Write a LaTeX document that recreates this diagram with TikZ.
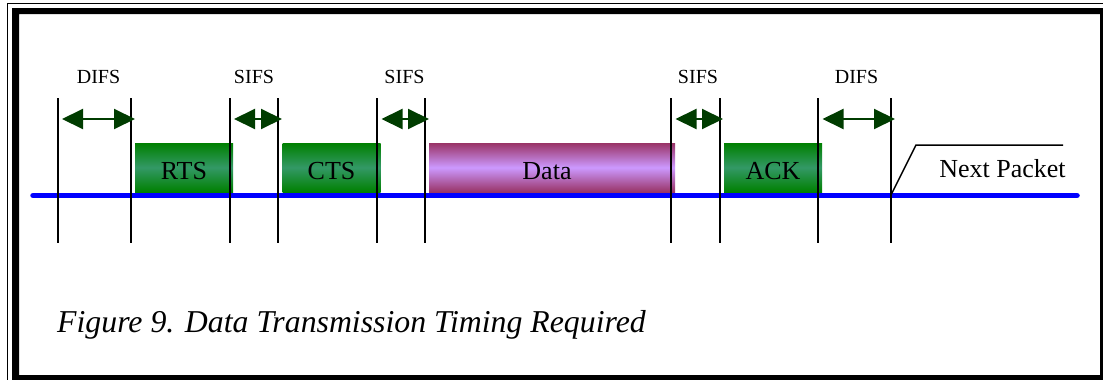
\documentclass[tikz,border=0pt]{standalone}
\usepackage{fontspec}
\setmainfont{Liberation Serif}
\usetikzlibrary{arrows.meta}
\definecolor{boxgreen}{RGB}{0,128,0}
\definecolor{boxgreenmid}{RGB}{51,153,102}
\definecolor{datadark}{RGB}{153,51,102}
\definecolor{datamid}{RGB}{204,153,255}
\definecolor{arrgreen}{RGB}{0,60,0}
\definecolor{busblue}{RGB}{0,0,255}
\tikzset{
  gbox/.style={minimum width=98pt,minimum height=49pt,inner sep=0pt,
    top color=boxgreen,bottom color=boxgreen,middle color=boxgreenmid,
    font=\fontsize{26}{30}\selectfont},
  dbox/.style={minimum width=246pt,minimum height=49pt,inner sep=0pt,
    top color=datadark,bottom color=datadark,middle color=datamid,
    font=\fontsize{26}{30}\selectfont},
  boxtext/.style={anchor=base,font=\fontsize{26}{30}\selectfont,inner sep=0pt},
  ifslabel/.style={anchor=base,inner sep=0pt,font=\fontsize{20}{24}\selectfont},
  tick/.style={line width=1.3pt,black},
  darr/.style={line width=2pt,arrgreen,{Triangle[length=21pt,width=20pt]}-{Triangle[length=21pt,width=20pt]}},
  bus/.style={line width=5.5pt,busblue,line cap=round},
}
\begin{document}
\begin{tikzpicture}[x=1pt,y=-1pt]
\useasboundingbox (0,0) rectangle (1103,380);
% frame
\draw[line width=1.3pt] (7.5,380) -- (7.5,3.5) -- (1103,3.5);
\fill[black,even odd rule] (12,8) rectangle (1103,380) (19,14) rectangle (1100,375);
% boxes
\node[gbox] (rts) at (184,167.5) {};
\node[gbox] (cts) at (331.5,167.5) {};
\node[dbox] (data) at (552,167.5) {};
\node[gbox] (ack) at (773,167.5) {};
\node[boxtext] (trts) at (184,179) {RTS};
\node[boxtext] (tcts) at (331.5,179) {CTS};
\node[boxtext] (tdata) at (547,179) {Data};
\node[boxtext] (tack) at (773,179) {ACK};
% bus
\coordinate (busL) at (33,195.5);
\coordinate (busR) at (1077,195.5);
\draw[bus] (busL) -- (busR);
% ticks
\foreach \x in {58,131,230,278,377,425,671,720,818,891}{
  \draw[tick] (\x,98) -- (\x,243);
}
% arrows
\coordinate (a1l) at (62,119); \coordinate (a1r) at (135,119);
\coordinate (a2l) at (234,119); \coordinate (a2r) at (282,119);
\coordinate (a3l) at (381.5,119); \coordinate (a3r) at (429,119);
\coordinate (a4l) at (675.5,119); \coordinate (a4r) at (723,119);
\coordinate (a5l) at (822.5,119); \coordinate (a5r) at (895,119);
\draw[darr] (a1l) -- (a1r);
\draw[darr] (a2l) -- (a2r);
\draw[darr] (a3l) -- (a3r);
\draw[darr] (a4l) -- (a4r);
\draw[darr] (a5l) -- (a5r);
% labels
\node[ifslabel] (l1) at (98.5,83) {DIFS};
\node[ifslabel] (l2) at (254,83) {SIFS};
\node[ifslabel] (l3) at (404.5,83) {SIFS};
\node[ifslabel] (l4) at (698,83) {SIFS};
\node[ifslabel] (l5) at (856.5,83) {DIFS};
% next packet
\coordinate (np0) at (891,195);
\coordinate (np1) at (916,145);
\coordinate (np2) at (1063,145);
\draw[line width=1.5pt] (np0) -- (np1) -- (np2);
\node[boxtext] (np) at (1002.5,177.5) {Next Packet};
% caption
\node[anchor=base west,inner sep=0pt,font=\fontsize{31.8}{36}\selectfont\itshape] (cap) at (57,332) {Figure 9. Data Transmission Timing Required};
\end{tikzpicture}
\end{document}
